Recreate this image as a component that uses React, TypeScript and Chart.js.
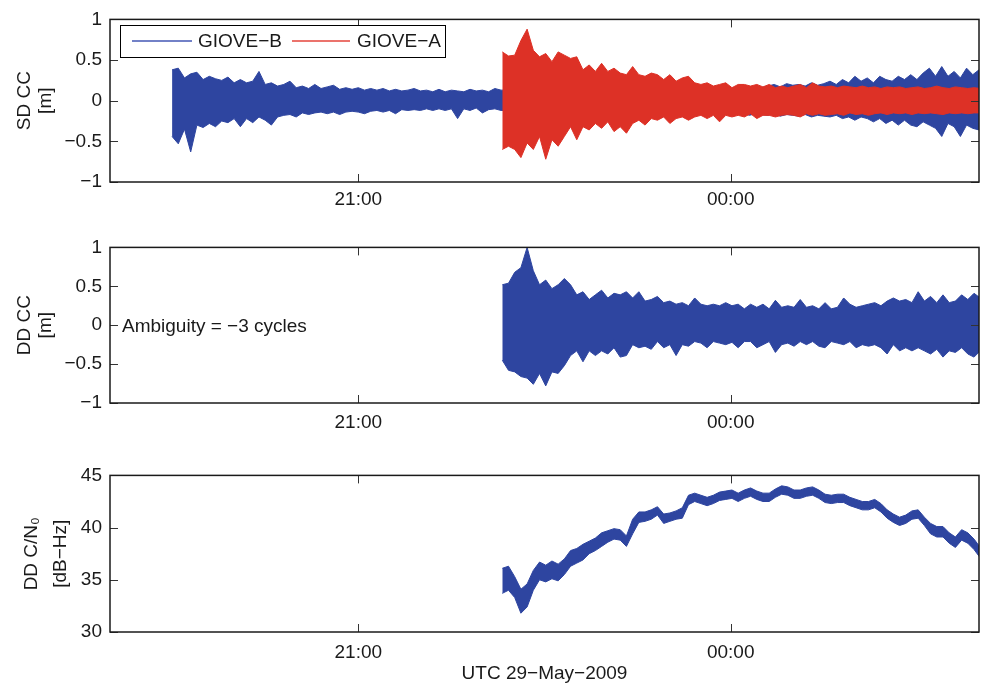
import React, { useEffect, useRef } from 'react';
import { Chart, registerables } from 'chart.js';

Chart.register(...registerables);

const FONT = '"Liberation Sans", Arial, Helvetica, sans-serif';
const BLUE = '#2E45A0';
const RED = '#DD3126';
const INK = '#1a1a1a';

// ---- axes ----
const xMin = 19;
const xMax = 26;
const xTickValues = [21, 24];
const xTickLabels = ['21:00', '00:00'];
const ccTicks = [-1, -0.5, 0, 0.5, 1];
const cnTicks = [30, 35, 40, 45];
const seriesNames = ['GIOVE−B', 'GIOVE−A'];
const xTitle = 'UTC 29−May−2009';
const ambiguityNote = 'Ambiguity = −3 cycles';

// sampling step (hours) of the envelope readings
const STEP = 0.05;

// ---- SD CC, GIOVE-B (start 19.50 h) ----
const sdBStart = 19.5;
const sdBUpper = [
  0.38, 0.40, 0.28, 0.33, 0.35, 0.26, 0.30, 0.27, 0.25, 0.29,
  0.22, 0.26, 0.22, 0.24, 0.36, 0.20, 0.22, 0.18, 0.20, 0.24,
  0.16, 0.18, 0.15, 0.20, 0.15, 0.17, 0.19, 0.14, 0.16, 0.14,
  0.16, 0.13, 0.15, 0.13, 0.15, 0.12, 0.14, 0.12, 0.13, 0.15,
  0.12, 0.13, 0.11, 0.14, 0.11, 0.13, 0.12, 0.11, 0.14, 0.12,
  0.13, 0.11, 0.15, 0.13, 0.13, 0.12, 0.14, 0.12, 0.13, 0.12,
  0.14, 0.12, 0.13, 0.14, 0.12, 0.13, 0.15, 0.12, 0.13, 0.14,
  0.12, 0.14, 0.13, 0.15, 0.13, 0.14, 0.12, 0.15, 0.13, 0.14,
  0.15, 0.13, 0.16, 0.14, 0.15, 0.17, 0.14, 0.16, 0.15, 0.17,
  0.15, 0.16, 0.18, 0.15, 0.17, 0.16, 0.18, 0.20, 0.17, 0.21,
  0.19, 0.20, 0.18, 0.22, 0.19, 0.21, 0.24, 0.20, 0.26, 0.22,
  0.30, 0.24, 0.28, 0.22, 0.30, 0.26, 0.24, 0.30, 0.26, 0.32,
  0.26, 0.34, 0.40, 0.30, 0.42, 0.30, 0.36, 0.28, 0.40, 0.32, 0.38,
];
const sdBLower = [
  -0.44, -0.53, -0.35, -0.63, -0.30, -0.33, -0.28, -0.32, -0.25, -0.27,
  -0.22, -0.32, -0.22, -0.27, -0.20, -0.24, -0.30, -0.20, -0.18, -0.17,
  -0.20, -0.15, -0.17, -0.15, -0.14, -0.16, -0.14, -0.17, -0.14, -0.13,
  -0.14, -0.16, -0.13, -0.12, -0.14, -0.12, -0.16, -0.11, -0.12, -0.11,
  -0.12, -0.10, -0.12, -0.10, -0.12, -0.10, -0.22, -0.10, -0.12, -0.09,
  -0.15, -0.11, -0.10, -0.12, -0.12, -0.13, -0.12, -0.13, -0.12, -0.14,
  -0.12, -0.13, -0.14, -0.12, -0.13, -0.12, -0.14, -0.13, -0.12, -0.14,
  -0.13, -0.12, -0.14, -0.13, -0.15, -0.13, -0.14, -0.12, -0.15, -0.14,
  -0.14, -0.16, -0.14, -0.15, -0.16, -0.14, -0.17, -0.15, -0.16, -0.15,
  -0.16, -0.17, -0.15, -0.18, -0.16, -0.17, -0.18, -0.16, -0.19, -0.17,
  -0.18, -0.19, -0.17, -0.20, -0.18, -0.19, -0.20, -0.18, -0.22, -0.20,
  -0.24, -0.20, -0.22, -0.26, -0.22, -0.28, -0.24, -0.30, -0.24, -0.30,
  -0.32, -0.26, -0.30, -0.34, -0.44, -0.28, -0.32, -0.44, -0.30, -0.34, -0.36,
];

// ---- SD CC, GIOVE-A (start 22.16 h) ----
const sdAStart = 22.16;
const sdAUpper = [
  0.60, 0.55, 0.56, 0.74, 0.88, 0.62, 0.54, 0.58, 0.48, 0.60,
  0.56, 0.52, 0.54, 0.38, 0.44, 0.36, 0.46, 0.36, 0.40, 0.34,
  0.32, 0.42, 0.32, 0.30, 0.34, 0.32, 0.26, 0.32, 0.24, 0.28,
  0.30, 0.22, 0.20, 0.22, 0.18, 0.20, 0.22, 0.16, 0.20, 0.20,
  0.18, 0.20, 0.17, 0.20, 0.16, 0.18, 0.16, 0.18, 0.20, 0.16,
  0.22, 0.18, 0.17, 0.18, 0.16, 0.18, 0.17, 0.16, 0.18, 0.16,
  0.17, 0.15, 0.17, 0.16, 0.17, 0.15, 0.16, 0.17, 0.15, 0.16,
  0.18, 0.16, 0.15, 0.17, 0.16, 0.15, 0.16, 0.15,
];
const sdALower = [
  -0.60, -0.56, -0.60, -0.70, -0.52, -0.60, -0.44, -0.72, -0.48, -0.56,
  -0.44, -0.32, -0.48, -0.32, -0.36, -0.28, -0.34, -0.26, -0.38, -0.32,
  -0.40, -0.28, -0.24, -0.30, -0.22, -0.24, -0.20, -0.28, -0.22, -0.20,
  -0.24, -0.20, -0.18, -0.22, -0.18, -0.26, -0.18, -0.20, -0.18, -0.20,
  -0.16, -0.22, -0.18, -0.18, -0.20, -0.18, -0.17, -0.18, -0.20, -0.16,
  -0.18, -0.16, -0.18, -0.17, -0.16, -0.18, -0.15, -0.17, -0.16, -0.18,
  -0.16, -0.15, -0.17, -0.15, -0.16, -0.15, -0.17, -0.15, -0.16, -0.15,
  -0.16, -0.17, -0.15, -0.16, -0.15, -0.16, -0.15, -0.15,
];

// ---- DD CC (start 22.16 h) ----
const ddStart = 22.16;
const ddUpper = [
  0.52, 0.54, 0.68, 0.74, 1.00, 0.70, 0.52, 0.58, 0.47, 0.52,
  0.60, 0.52, 0.39, 0.43, 0.33, 0.39, 0.45, 0.35, 0.41, 0.39,
  0.43, 0.35, 0.43, 0.31, 0.33, 0.37, 0.29, 0.31, 0.27, 0.29,
  0.25, 0.35, 0.27, 0.25, 0.27, 0.25, 0.29, 0.25, 0.27, 0.21,
  0.27, 0.23, 0.27, 0.21, 0.32, 0.23, 0.25, 0.23, 0.33, 0.23,
  0.25, 0.21, 0.29, 0.21, 0.23, 0.35, 0.27, 0.23, 0.25, 0.27,
  0.29, 0.25, 0.31, 0.35, 0.31, 0.33, 0.29, 0.43, 0.31, 0.37,
  0.29, 0.39, 0.29, 0.31, 0.39, 0.33, 0.41, 0.35,
];
const ddLower = [
  -0.45, -0.58, -0.60, -0.66, -0.68, -0.76, -0.62, -0.78, -0.60, -0.62,
  -0.52, -0.39, -0.33, -0.47, -0.33, -0.39, -0.33, -0.37, -0.29, -0.41,
  -0.39, -0.25, -0.29, -0.27, -0.31, -0.21, -0.29, -0.25, -0.39, -0.25,
  -0.27, -0.21, -0.23, -0.29, -0.21, -0.23, -0.25, -0.22, -0.29, -0.21,
  -0.21, -0.29, -0.25, -0.21, -0.35, -0.25, -0.23, -0.27, -0.21, -0.25,
  -0.21, -0.27, -0.29, -0.21, -0.23, -0.25, -0.21, -0.29, -0.25, -0.27,
  -0.25, -0.29, -0.37, -0.25, -0.33, -0.29, -0.33, -0.29, -0.33, -0.37,
  -0.31, -0.41, -0.33, -0.35, -0.29, -0.37, -0.41, -0.33,
];

// ---- DD C/N0 (start 22.16 h) ----
const cnStart = 22.16;
const cnUpper = [
  36.1, 36.3, 35.3, 34.1, 34.6, 35.9, 36.7, 36.4, 36.8, 36.5,
  37.0, 37.8, 38.0, 38.4, 38.7, 39.0, 39.5, 39.7, 39.9, 39.8,
  39.2, 40.8, 41.5, 41.5, 41.7, 42.0, 41.3, 41.4, 41.6, 41.9,
  43.1, 43.3, 43.1, 42.9, 43.1, 43.4, 43.5, 43.6, 43.3, 43.6,
  43.8, 43.5, 43.3, 43.3, 43.7, 44.0, 43.9, 43.6, 43.6, 43.8,
  43.9, 43.6, 43.2, 43.1, 43.2, 43.2, 42.9, 42.7, 42.5, 42.5,
  42.7, 42.3, 41.7, 41.3, 41.0, 41.2, 41.6, 41.7, 41.0, 40.4,
  40.1, 40.1, 39.5, 39.1, 39.8, 39.5, 38.9, 38.1,
];
const cnLower = [
  33.7, 34.0, 33.3, 31.8, 32.4, 34.0, 35.0, 34.8, 35.1, 34.9,
  35.5, 36.3, 36.6, 36.9, 37.5, 37.8, 38.2, 38.6, 38.9, 38.8,
  38.2, 39.4, 40.5, 40.6, 40.8, 41.2, 40.4, 40.6, 40.8, 40.9,
  42.2, 42.5, 42.3, 42.1, 42.3, 42.6, 42.7, 42.8, 42.5, 42.8,
  43.0, 42.7, 42.5, 42.5, 42.9, 43.2, 43.1, 42.8, 42.8, 43.0,
  43.1, 42.8, 42.4, 42.3, 42.4, 42.4, 42.1, 41.9, 41.7, 41.7,
  41.9, 41.5, 40.9, 40.5, 40.2, 40.4, 40.8, 40.9, 40.2, 39.4,
  39.1, 39.1, 38.5, 38.1, 38.8, 38.5, 37.9, 37.1,
];

function pts(start: number, vals: number[]) {
  return vals.map((v, i) => ({ x: Math.round((start + i * STEP) * 1000) / 1000, y: v }));
}

function band(label: string, start: number, up: number[], lo: number[], color: string) {
  const common = { borderColor: color, backgroundColor: color, borderWidth: 1, pointRadius: 0, tension: 0 };
  return [
    { ...common, label, data: pts(start, up), fill: '+1' },
    { ...common, label: label + ' (lower)', data: pts(start, lo), fill: false },
  ];
}

function fmt(v: number) {
  return v < 0 ? '−' + String(Math.abs(v)) : String(v);
}

type PanelCfg = {
  key: string;
  top: number;
  height: number;
  padTop: number;
  padBottom: number;
  xTickPad: number;
  yMin: number;
  yMax: number;
  yTicks: number[];
  yTitle: string[];
  yTitleX: number[];
  datasets: any[];
  legend?: boolean;
  note?: string;
  xTitle?: string;
};

const panels: PanelCfg[] = [
  {
    key: 'sd', top: 0, height: 228, padTop: 15, padBottom: 6, xTickPad: 6,
    yMin: -1, yMax: 1, yTicks: ccTicks,
    yTitle: ['SD CC', '[m]'], yTitleX: [29.5, 51],
    datasets: [
      ...band(seriesNames[1], sdAStart, sdAUpper, sdALower, RED),
      ...band(seriesNames[0], sdBStart, sdBUpper, sdBLower, BLUE),
    ],
    legend: true,
  },
  {
    key: 'dd', top: 228, height: 228, padTop: 10, padBottom: 13, xTickPad: 8,
    yMin: -1, yMax: 1, yTicks: ccTicks,
    yTitle: ['DD CC', '[m]'], yTitleX: [29.5, 51],
    datasets: band('DD CC', ddStart, ddUpper, ddLower, BLUE),
    note: ambiguityNote,
  },
  {
    key: 'cn', top: 456, height: 229, padTop: 11, padBottom: 13, xTickPad: 9,
    yMin: 30, yMax: 45, yTicks: cnTicks,
    yTitle: ['DD C/N₀', '[dB−Hz]'], yTitleX: [36.5, 66],
    datasets: band('DD C/N0', cnStart, cnUpper, cnLower, BLUE),
    xTitle,
  },
];

function makeDecor(cfg: PanelCfg) {
  return {
    id: 'decor-' + cfg.key,
    afterDraw(chart: any) {
      const { ctx, chartArea: a, scales } = chart;
      ctx.save();
      // inward ticks
      ctx.strokeStyle = '#333';
      ctx.lineWidth = 1;
      ctx.beginPath();
      for (const v of xTickValues) {
        const px = Math.round(scales.x.getPixelForValue(v)) + 0.5;
        ctx.moveTo(px, a.top); ctx.lineTo(px, a.top + 8);
        ctx.moveTo(px, a.bottom); ctx.lineTo(px, a.bottom - 8);
      }
      for (const v of cfg.yTicks) {
        const py = Math.round(scales.y.getPixelForValue(v)) + 0.5;
        ctx.moveTo(a.left, py); ctx.lineTo(a.left + 8, py);
        ctx.moveTo(a.right, py); ctx.lineTo(a.right - 8, py);
      }
      ctx.stroke();
      // frame
      ctx.strokeStyle = INK;
      ctx.lineWidth = 1.5;
      ctx.strokeRect(a.left, a.top, a.right - a.left, a.bottom - a.top);

      ctx.fillStyle = INK;
      ctx.font = `19px ${FONT}`;
      // y title (rotated)
      const cy = (a.top + a.bottom) / 2;
      cfg.yTitle.forEach((t, i) => {
        ctx.save();
        ctx.translate(cfg.yTitleX[i], cy);
        ctx.rotate(-Math.PI / 2);
        ctx.textAlign = 'center';
        ctx.textBaseline = 'alphabetic';
        ctx.fillText(t, 0, 0);
        ctx.restore();
      });

      if (cfg.legend) {
        const lx = 120, ly = 25, lw = 325, lh = 32;
        ctx.fillStyle = '#fff';
        ctx.fillRect(lx, ly, lw, lh);
        ctx.strokeStyle = '#000';
        ctx.lineWidth = 1;
        ctx.strokeRect(lx + 0.5, ly + 0.5, lw, lh);
        const my = ly + lh / 2;
        const items = [
          { name: seriesNames[0], color: '#4357B5', x0: 132, x1: 192, tx: 198 },
          { name: seriesNames[1], color: '#E5453B', x0: 292, x1: 350, tx: 357 },
        ];
        for (const it of items) {
          ctx.beginPath();
          ctx.strokeStyle = it.color;
          ctx.lineWidth = 1.3;
          ctx.moveTo(it.x0, my);
          ctx.lineTo(it.x1, my);
          ctx.stroke();
          ctx.fillStyle = INK;
          ctx.textAlign = 'left';
          ctx.textBaseline = 'middle';
          ctx.fillText(it.name, it.tx, my + 1);
        }
      }

      if (cfg.note) {
        ctx.fillStyle = INK;
        ctx.textAlign = 'left';
        ctx.textBaseline = 'middle';
        ctx.fillText(cfg.note, a.left + 12, scales.y.getPixelForValue(0) + 2);
      }

      if (cfg.xTitle) {
        ctx.fillStyle = INK;
        ctx.textAlign = 'center';
        ctx.textBaseline = 'middle';
        ctx.fillText(cfg.xTitle, (a.left + a.right) / 2, 218);
      }
      ctx.restore();
    },
  };
}

function PanelChart({ cfg }: { cfg: PanelCfg }) {
  const ref = useRef<HTMLCanvasElement>(null);
  useEffect(() => {
    const canvas = ref.current;
    if (!canvas) return;
    const tickFont = { family: FONT, size: 19 };
    const chart = new Chart(canvas, {
      type: 'line',
      data: { datasets: cfg.datasets },
      options: {
        responsive: false,
        maintainAspectRatio: false,
        animation: false,
        events: [],
        layout: { padding: { left: 0, right: 3, top: cfg.padTop, bottom: cfg.padBottom } },
        plugins: { legend: { display: false }, tooltip: { enabled: false } },
        scales: {
          x: {
            type: 'linear',
            min: xMin,
            max: xMax,
            grid: { display: false, drawTicks: false },
            border: { display: false },
            afterBuildTicks: (s: any) => { s.ticks = xTickValues.map((v) => ({ value: v })); },
            afterFit: (s: any) => { s.height = 40; },
            ticks: {
              padding: cfg.xTickPad,
              font: tickFont,
              color: INK,
              maxRotation: 0,
              autoSkip: false,
              callback: (v: any) => {
                const i = xTickValues.indexOf(Number(v));
                return i >= 0 ? xTickLabels[i] : '';
              },
            },
          },
          y: {
            type: 'linear',
            min: cfg.yMin,
            max: cfg.yMax,
            grid: { display: false, drawTicks: false },
            border: { display: false },
            afterBuildTicks: (s: any) => { s.ticks = cfg.yTicks.map((v) => ({ value: v })); },
            afterFit: (s: any) => { s.width = 110; },
            ticks: {
              padding: 8,
              font: tickFont,
              color: INK,
              autoSkip: false,
              callback: (v: any) => fmt(Number(v)),
            },
          },
        },
      } as any,
      plugins: [makeDecor(cfg)],
    });
    return () => chart.destroy();
  }, [cfg]);
  return (
    <canvas
      ref={ref}
      width={982}
      height={cfg.height}
      style={{ position: 'absolute', left: 0, top: cfg.top, width: 982, height: cfg.height, display: 'block' }}
    />
  );
}

export default function App() {
  return (
    <div style={{ position: 'fixed', left: 0, top: 0, width: 982, height: 685, background: '#fff', overflow: 'hidden' }}>
      {panels.map((p) => (
        <PanelChart key={p.key} cfg={p} />
      ))}
    </div>
  );
}
